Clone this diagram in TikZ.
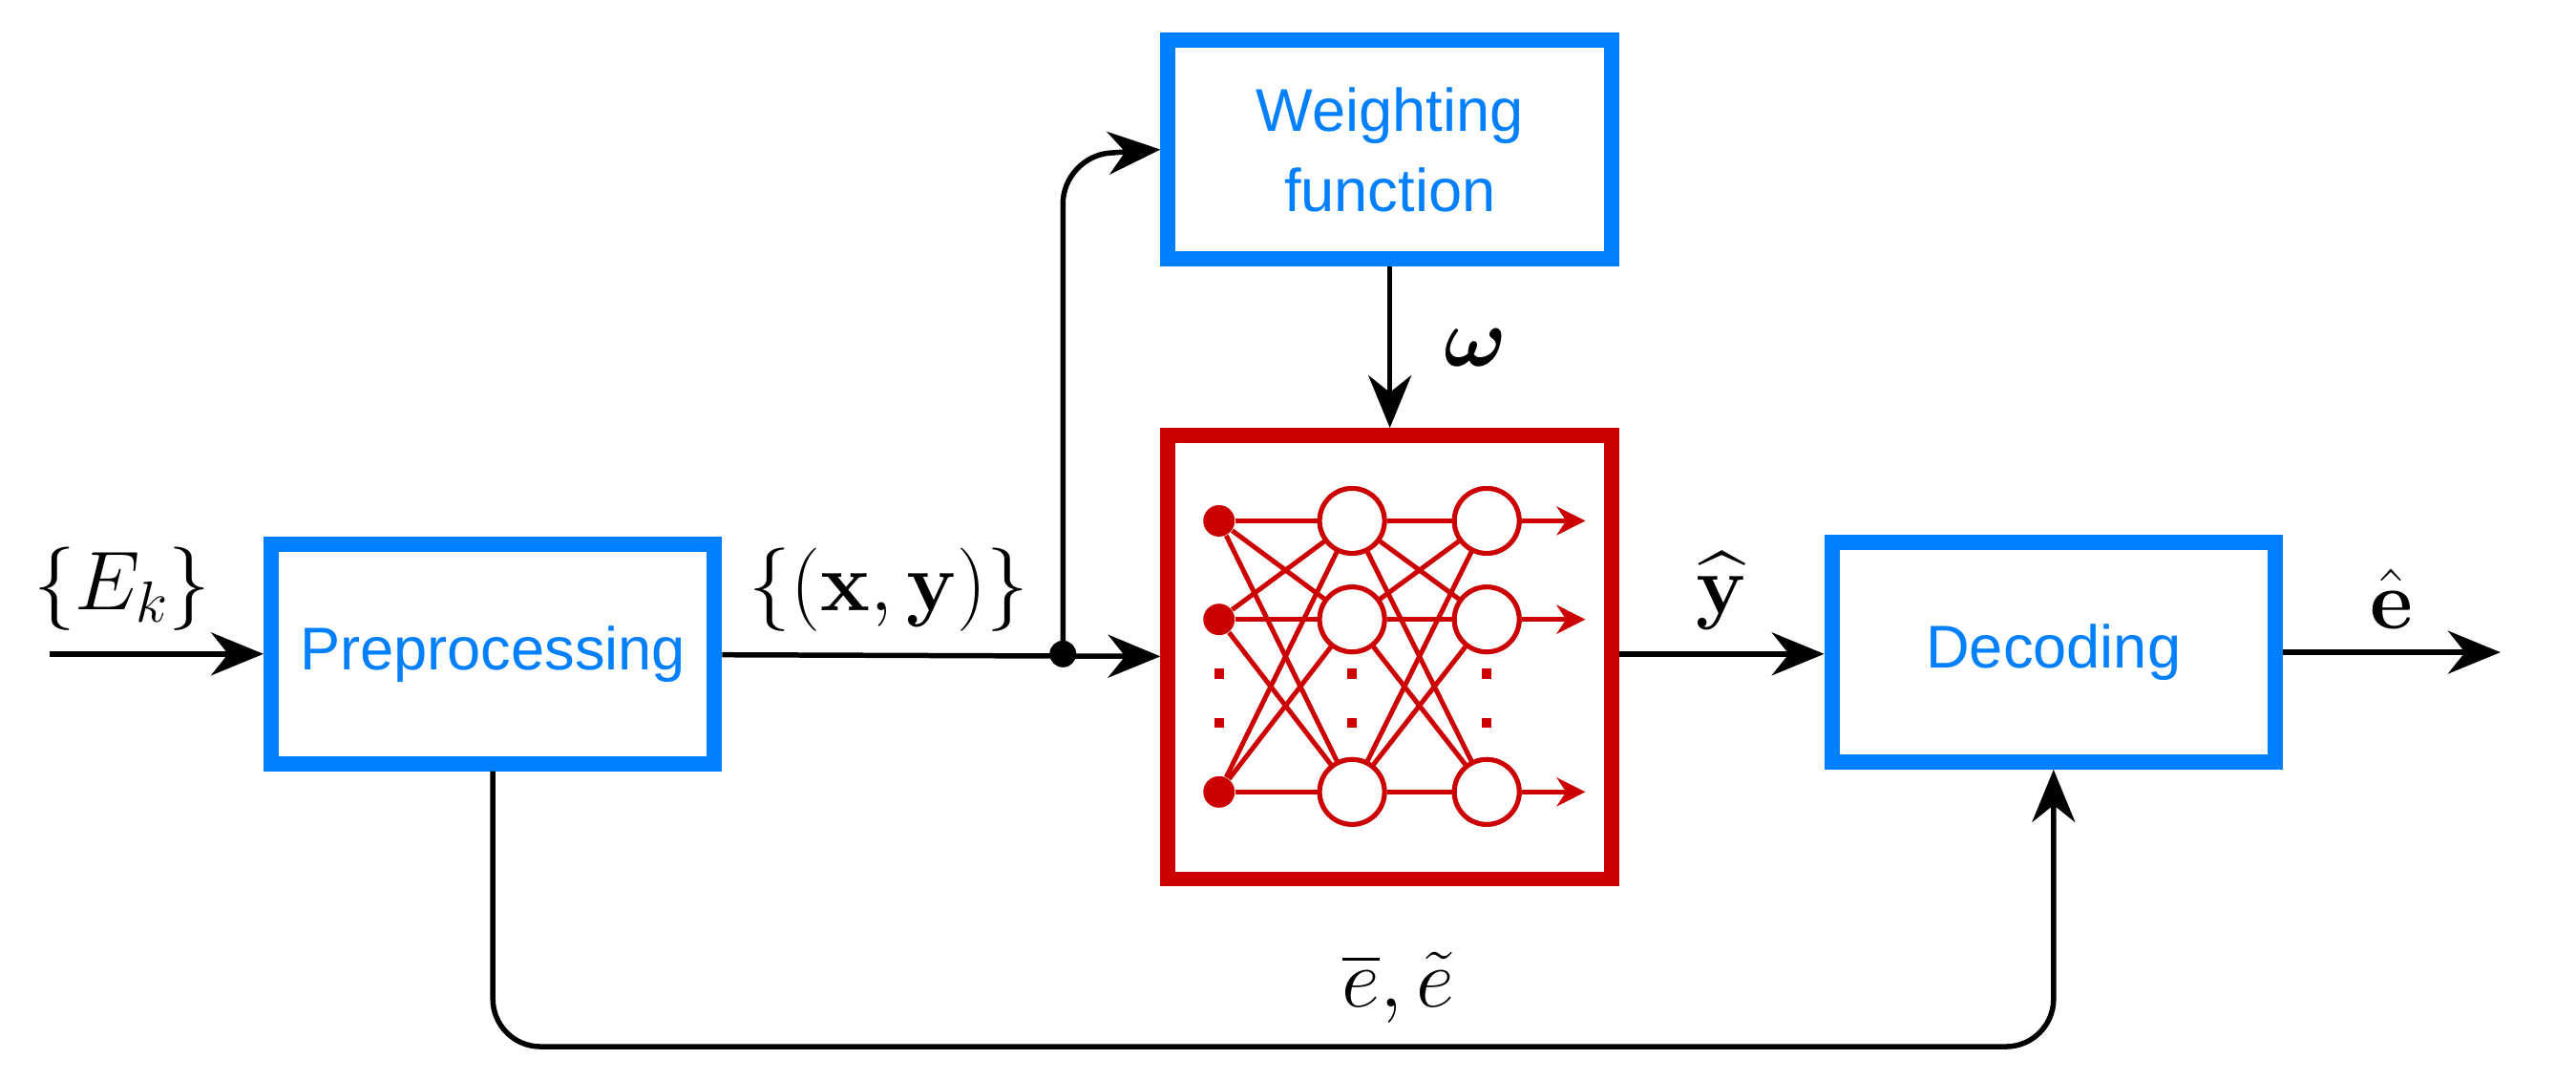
\documentclass[tikz,border=0pt]{standalone}
\usepackage[no-math]{fontspec}
\setmainfont{Liberation Sans}
\usepackage{amsmath}
\usepackage{bm}
\usetikzlibrary{positioning, arrows.meta, fit, shapes}
\definecolor{blk}{RGB}{0,127,255}
\definecolor{nnred}{RGB}{204,0,0}

\begin{document}
\begin{tikzpicture}[
            x=0.01722cm, y=-0.01722cm,
            block/.style={rectangle, draw=blk, line width=1.6mm, minimum height=2.3cm, minimum width=4.65cm, text=blk, font=\fontsize{18}{22}\selectfont, align=center},
            lbl/.style={font=\fontsize{24}{28}\selectfont},
            arr/.style={-{Stealth[length=5.5mm,width=4.5mm]}, line width=0.55mm, rounded corners=0.5cm},
            neuron/.style={circle, draw=nnred, line width=0.5mm, fill=white, minimum size=0.68cm, inner sep=0},
            inp/.style={circle, fill=nnred, minimum size=0.33cm, inner sep=0}
        ]
        \useasboundingbox (0,0) rectangle (1568,657);

        \node[block] (pre) at (300,398) {Preprocessing};
        \node[block] (weight) at (846,91) {Weighting\\[2pt]function};
        \node[block] (dec) at (1250,397) {Decoding};
        \node[rectangle, draw=nnred, line width=1.6mm, minimum size=4.65cm] (nn) at (846,400) {};

        \coordinate (in) at (30,398);
        \coordinate (out) at (1522,397);
        \coordinate (split) at (647,398);

        % network inside
        \foreach \i/\y in {1/317, 2/377, 3/482} {
            \node[inp] (a\i) at (742,\y) {};
            \node[neuron] (b\i) at (823,\y) {};
            \node[neuron] (c\i) at (905,\y) {};
            \coordinate (o\i) at (965,\y);
        }
        \foreach \i in {1,2,3} {
            \foreach \j in {1,2,3} {
                \draw[nnred, line width=0.5mm] (a\i) -- (b\j);
                \draw[nnred, line width=0.5mm] (b\i) -- (c\j);
            }
            \draw[-{Stealth[length=3mm,width=3mm]}, nnred, line width=0.5mm] (c\i) -- (o\i);
        }
        \foreach \i in {1,2,3} {
            \node[neuron] at (b\i) {};
            \node[neuron] at (c\i) {};
        }
        \foreach \x in {742,823,905} {
            \fill[nnred] (\x-3,407) rectangle (\x+3,413);
            \fill[nnred] (\x-3,437) rectangle (\x+3,443);
        }

        \draw[arr] (in) -- (pre) node[lbl, pos=0.34, above=3pt] {$\{E_k\}$};
        \draw[arr] (pre) -- (nn) node[lbl, pos=0.38, above=3pt] {$\{(\mathbf{x},\mathbf{y})\}$};
        \fill (split) circle (0.14cm);
        \draw[arr] (split) -- (647,95) -- (weight.west);
        \draw[arr] (weight) -- (nn) node[lbl, midway, right=12pt] {$\bm{\omega}$};
        \draw[arr] (nn.east |- 0,398) -- (dec.west |- 0,398) node[lbl, midway, above=3pt] {$\widehat{\mathbf{y}}$};
        \draw[arr] (dec) -- (out) node[lbl, midway, above=3pt] {$\hat{\mathbf{e}}$};
        \draw[arr] (pre) -- (300,637) -- (1250,637) node[lbl, pos=0.58, above=3pt] {$\overline{e},\tilde{e}$} -- (dec);
    \end{tikzpicture}
\end{document}
